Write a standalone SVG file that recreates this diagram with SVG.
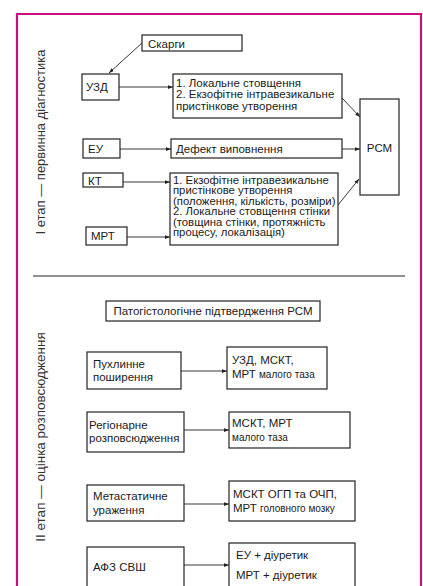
<svg xmlns="http://www.w3.org/2000/svg" width="423" height="586" viewBox="0 0 423 586">
<defs>
<marker id="ah" viewBox="0 0 8 6" refX="8" refY="3" markerWidth="5" markerHeight="4" orient="auto" markerUnits="userSpaceOnUse">
<path d="M0,0 L8,3 L0,6 z" fill="#222"/>
</marker>
<style>
.bx{fill:#fff;stroke:#222;stroke-width:1.2}
.t{font-family:"Liberation Sans","Noto Sans",sans-serif;font-size:11.5px;fill:#1a1a1a}
.n{font-size:10.5px}
.s{font-size:10px}
.v{font-family:"Liberation Sans","Noto Sans",sans-serif;font-size:13px;fill:#333}
.c{fill:none;stroke:#222;stroke-width:0.9;marker-end:url(#ah)}
</style>
</defs>
<rect width="423" height="586" fill="#fff"/>
<path d="M17,600 V14 H421 V600" fill="none" stroke="#c8107f" stroke-width="2.2"/>
<text class="v" transform="translate(45,142) rotate(-90)" text-anchor="middle">І етап — первинна діагностика</text>
<text class="v" transform="translate(45,437) rotate(-90)" text-anchor="middle" style="font-size:13.5px">ІІ етап — оцінка розповсюдження</text>
<line x1="33" y1="276" x2="405" y2="276" stroke="#222" stroke-width="1.2"/>
<g id="connectors">
<path class="c" d="M142,43 L109,73"/>
<path class="c" d="M119,87 H173"/>
<path class="c" d="M342,98 L360,117"/>
<path class="c" d="M120,149 H171"/>
<path class="c" d="M342,149 H360"/>
<path class="c" d="M123,182 H170"/>
<path class="c" d="M127,237 H170"/>
<path class="c" d="M338,205 L359,179"/>
<path class="c" d="M181,371 H227"/>
<path class="c" d="M184,430 H229"/>
<path class="c" d="M184,504 H229"/>
<path class="c" d="M184,565 H229"/>
</g>
<g id="skargy"><rect class="bx" x="142" y="35" width="100" height="16"/><text class="t" x="148" y="47.5">Скарги</text></g>
<g id="uzd"><rect class="bx" x="82" y="74" width="37" height="26"/><text class="t" x="86" y="91">УЗД</text></g>
<g id="uzd-result"><rect class="bx" x="173" y="74" width="169" height="44"/><text class="t" x="176" y="86.5">1. Локальне стовщення</text><text class="t" x="176" y="98">2. Екзофітне інтравезикальне</text><text class="t" x="176" y="109.5">пристінкове утворення</text></g>
<g id="rsm"><rect class="bx" x="360" y="99" width="39" height="96"/><text class="t" x="379.5" y="152" text-anchor="middle">РСМ</text></g>
<g id="eu"><rect class="bx" x="83" y="139" width="37" height="19"/><text class="t" x="88" y="152.5">ЕУ</text></g>
<g id="defekt"><rect class="bx" x="171" y="139" width="171" height="19"/><text class="t" x="176" y="152.5">Дефект виповнення</text></g>
<g id="kt"><rect class="bx" x="83" y="173" width="40" height="14"/><text class="t" x="88" y="184.5">КТ</text></g>
<g id="mrt"><rect class="bx" x="86" y="227" width="41" height="18"/><text class="t" x="91" y="240">МРТ</text></g>
<g id="kt-mrt-result"><rect class="bx" x="170" y="173" width="168" height="72"/>
<g transform="translate(173,0) scale(1.08,1) translate(-173,0)">
<text class="t n" x="173" y="184">1. Екзофітне інтравезикальне</text>
<text class="t n" x="173" y="194.5">пристінкове утворення</text>
<text class="t n" x="173" y="205">(положення, кількість, розміри)</text>
<text class="t n" x="173" y="215.5">2. Локальне стовщення стінки</text>
<text class="t n" x="173" y="226">(товщина стінки, протяжність</text>
<text class="t n" x="173" y="236.5">процесу, локалізація)</text></g></g>
<g id="pathohist"><rect class="bx" x="106" y="301" width="214" height="20"/><text class="t" x="213" y="315" text-anchor="middle">Патогістологічне підтвердження РСМ</text></g>
<g id="tumor"><rect class="bx" x="87" y="352" width="94" height="37"/><text class="t" x="93" y="368">Пухлинне</text><text class="t" x="93" y="381">поширення</text></g>
<g id="tumor-res"><rect class="bx" x="227" y="347" width="100" height="42"/><text class="t" x="232" y="364">УЗД, МСКТ,</text><text class="t" x="232" y="378">МРТ <tspan class="s">малого таза</tspan></text></g>
<g id="regional"><rect class="bx" x="87" y="412" width="97" height="40"/><text class="t" x="89" y="429">Регіонарне</text><text class="t" x="89" y="442">розповсюдження</text></g>
<g id="regional-res"><rect class="bx" x="229" y="412" width="121" height="36"/><text class="t" x="232" y="427">МСКТ, МРТ</text><text class="t s" x="232" y="441">малого таза</text></g>
<g id="metast"><rect class="bx" x="87" y="485" width="97" height="36"/><text class="t" x="93" y="500">Метастатичне</text><text class="t" x="93" y="514">ураження</text></g>
<g id="metast-res"><rect class="bx" x="229" y="481" width="126" height="40"/><text class="t" x="233" y="498">МСКТ ОГП та ОЧП,</text><text class="t" x="233" y="512">МРТ <tspan class="s">головного мозку</tspan></text></g>
<g id="afz"><rect class="bx" x="87" y="547" width="97" height="60"/><text class="t" x="93" y="571">АФЗ СВШ</text></g>
<g id="afz-res"><rect class="bx" x="229" y="543" width="126" height="60"/><text class="t" x="236" y="559">ЕУ + діуретик</text><text class="t" x="236" y="579">МРТ + діуретик</text></g>
</svg>
